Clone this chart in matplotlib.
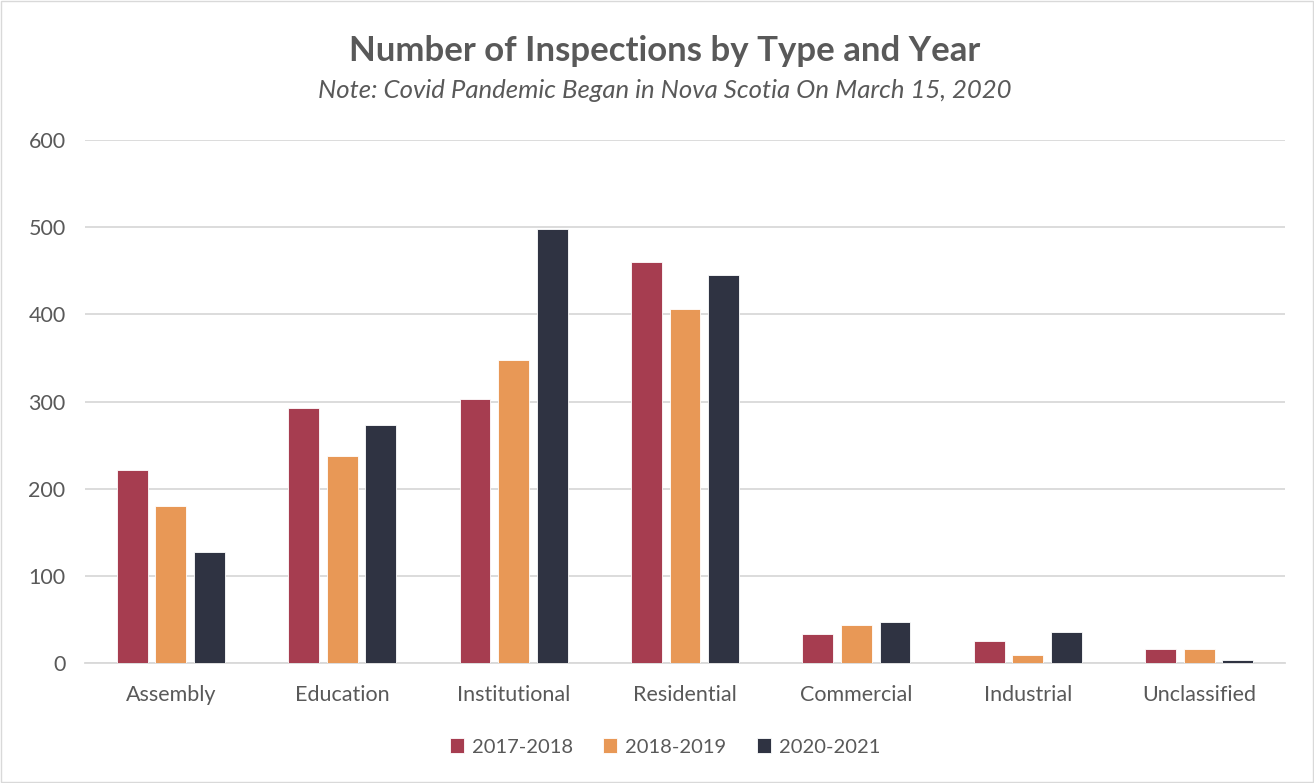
import matplotlib
matplotlib.use("Agg")
import matplotlib.pyplot as plt
import numpy as np
from matplotlib.patches import Rectangle

categories = ["Assembly", "Education", "Institutional", "Residential", "Commercial", "Industrial", "Unclassified"]
series_names = ["2017-2018", "2018-2019", "2020-2021"]
v2017 = [221, 293, 303, 460, 33, 25, 16]
v2018 = [180, 237, 348, 406, 44, 9, 16]
v2020 = [127, 273, 498, 445, 47, 36, 4]
colors = ["#A63D50", "#E89856", "#2F3342"]
yticks = [0, 100, 200, 300, 400, 500, 600]

plt.rcParams['font.family'] = ['Lato', 'DejaVu Sans']
fig = plt.figure(figsize=(13.14, 7.83), dpi=100)
ax = fig.add_axes([85/1314, 120/783, 1200/1314, 523/783])

x = np.arange(len(categories))
w = 0.18
step = 0.225
for i, (vals, name, c) in enumerate(zip([v2017, v2018, v2020], series_names, colors)):
    ax.bar(x + (i - 1) * step, vals, width=w, color=c, label=name, zorder=3,
           edgecolor="white", linewidth=0.6)

ax.set_xlim(-0.5, len(categories) - 0.5)
ax.set_ylim(0, 600)
ax.set_yticks(yticks)
ax.set_yticklabels([str(t) for t in yticks], fontsize=15.5, color="#595959")
ax.set_xticks(x)
ax.set_xticklabels(categories, fontsize=15.5, color="#595959")
ax.tick_params(axis="both", length=0)
ax.tick_params(axis="y", pad=14)
ax.tick_params(axis="x", pad=16)
ax.grid(axis="y", color="#d9d9d9", linewidth=1.3, zorder=0)
for s in ["top", "right", "left"]:
    ax.spines[s].set_visible(False)
ax.spines["bottom"].set_color("#d9d9d9")
ax.spines["bottom"].set_linewidth(1.3)

fig.text(0.506, 1 - 51/783, "Number of Inspections by Type and Year", ha="center", va="center",
         fontsize=25, fontweight="bold", color="#595959")
fig.text(0.506, 1 - 91/783, "Note: Covid Pandemic Began in Nova Scotia On March 15, 2020", ha="center",
         va="center", fontsize=18.5, style="italic", color="#595959")

leg = fig.legend(loc="center", bbox_to_anchor=(0.506, 1 - 747/783), ncol=3, frameon=False,
                 fontsize=14.5, handlelength=0.7, handleheight=0.7, columnspacing=1.5, handletextpad=0.4)
for t in leg.get_texts():
    t.set_color("#595959")

fig.add_artist(Rectangle((0.001, 0.001), 0.998, 0.998, transform=fig.transFigure,
                         fill=False, edgecolor="#d9d9d9", linewidth=1))

fig.savefig("out.png", dpi=100)
